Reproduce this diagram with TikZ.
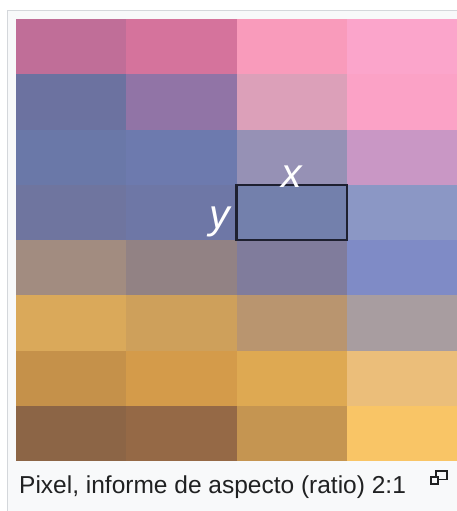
\documentclass[tikz,border=0pt]{standalone}
\usepackage{fontspec}
\setmainfont{Liberation Sans}
\definecolor{c11}{HTML}{C06E98}\definecolor{c12}{HTML}{D5739C}\definecolor{c13}{HTML}{F99BBB}\definecolor{c14}{HTML}{FBA5CB}
\definecolor{c21}{HTML}{6C72A0}\definecolor{c22}{HTML}{9174A6}\definecolor{c23}{HTML}{DCA0B9}\definecolor{c24}{HTML}{FBA2C6}
\definecolor{c31}{HTML}{6A78A8}\definecolor{c32}{HTML}{6D7AAE}\definecolor{c33}{HTML}{9691B5}\definecolor{c34}{HTML}{C997C5}
\definecolor{c41}{HTML}{6F759F}\definecolor{c42}{HTML}{6E77A6}\definecolor{c43}{HTML}{7380AC}\definecolor{c44}{HTML}{8B97C5}
\definecolor{c51}{HTML}{A28C80}\definecolor{c52}{HTML}{928284}\definecolor{c53}{HTML}{807C9C}\definecolor{c54}{HTML}{7F8BC6}
\definecolor{c61}{HTML}{DAA95A}\definecolor{c62}{HTML}{CEA05B}\definecolor{c63}{HTML}{B9956F}\definecolor{c64}{HTML}{A89DA0}
\definecolor{c71}{HTML}{C5914A}\definecolor{c72}{HTML}{D49B4A}\definecolor{c73}{HTML}{DEA952}\definecolor{c74}{HTML}{EBBE7A}
\definecolor{c81}{HTML}{8C6546}\definecolor{c82}{HTML}{956946}\definecolor{c83}{HTML}{C59551}\definecolor{c84}{HTML}{F9C566}
\definecolor{framebg}{HTML}{F8F9FA}
\definecolor{frameline}{HTML}{D4D7DB}
\definecolor{captext}{HTML}{202122}
\definecolor{pixline}{HTML}{1E2030}
\tikzset{
  axislbl/.style={text=white, font=\fontsize{41}{41}\selectfont\itshape, inner sep=0pt},
  caption/.style={text=captext, font=\fontsize{24.5}{26}\selectfont, inner sep=0pt, anchor=base west},
}
\begin{document}
\begin{tikzpicture}[x=1pt, y=-1pt]
    \useasboundingbox (0,0) rectangle (457,511);
    \fill[white] (0,0) rectangle (457,511);
    % thumbnail frame
    \filldraw[fill=framebg, draw=frameline, line width=1.2pt] (7.5,10.5) rectangle (470,525);
    % 4 x 8 pixel grid
    \foreach \r in {1,...,8}
      \foreach \c in {1,...,4}
        \fill[c\r\c] ({16+(\c-1)*110.25},{19+(\r-1)*55.25}) rectangle ({16+\c*110.25},{19+\r*55.25});
    % one pixel
    \node[draw=pixline, line width=2.4pt, minimum width=110.25pt, minimum height=55.25pt,
          inner sep=0pt] (pix) at ({16+2.5*110.25},{19+3.5*55.25}) {};
    \node[axislbl, anchor=base] (xlbl) at ([yshift=-4pt]pix.north) {x};
    \node[axislbl, anchor=base east] (ylbl) at ([xshift=-5pt,yshift=-16pt]pix.west) {y};
    % caption
    \node[caption] (cap) at (19,493) {Pixel, informe de aspecto (ratio) 2:1};
    % enlarge icon
    \draw[captext, line width=1.3pt] (436,471) rectangle (447,479.5);
    \filldraw[fill=framebg, draw=captext, line width=1.3pt] (431,477) rectangle (438,484);
\end{tikzpicture}
\end{document}
